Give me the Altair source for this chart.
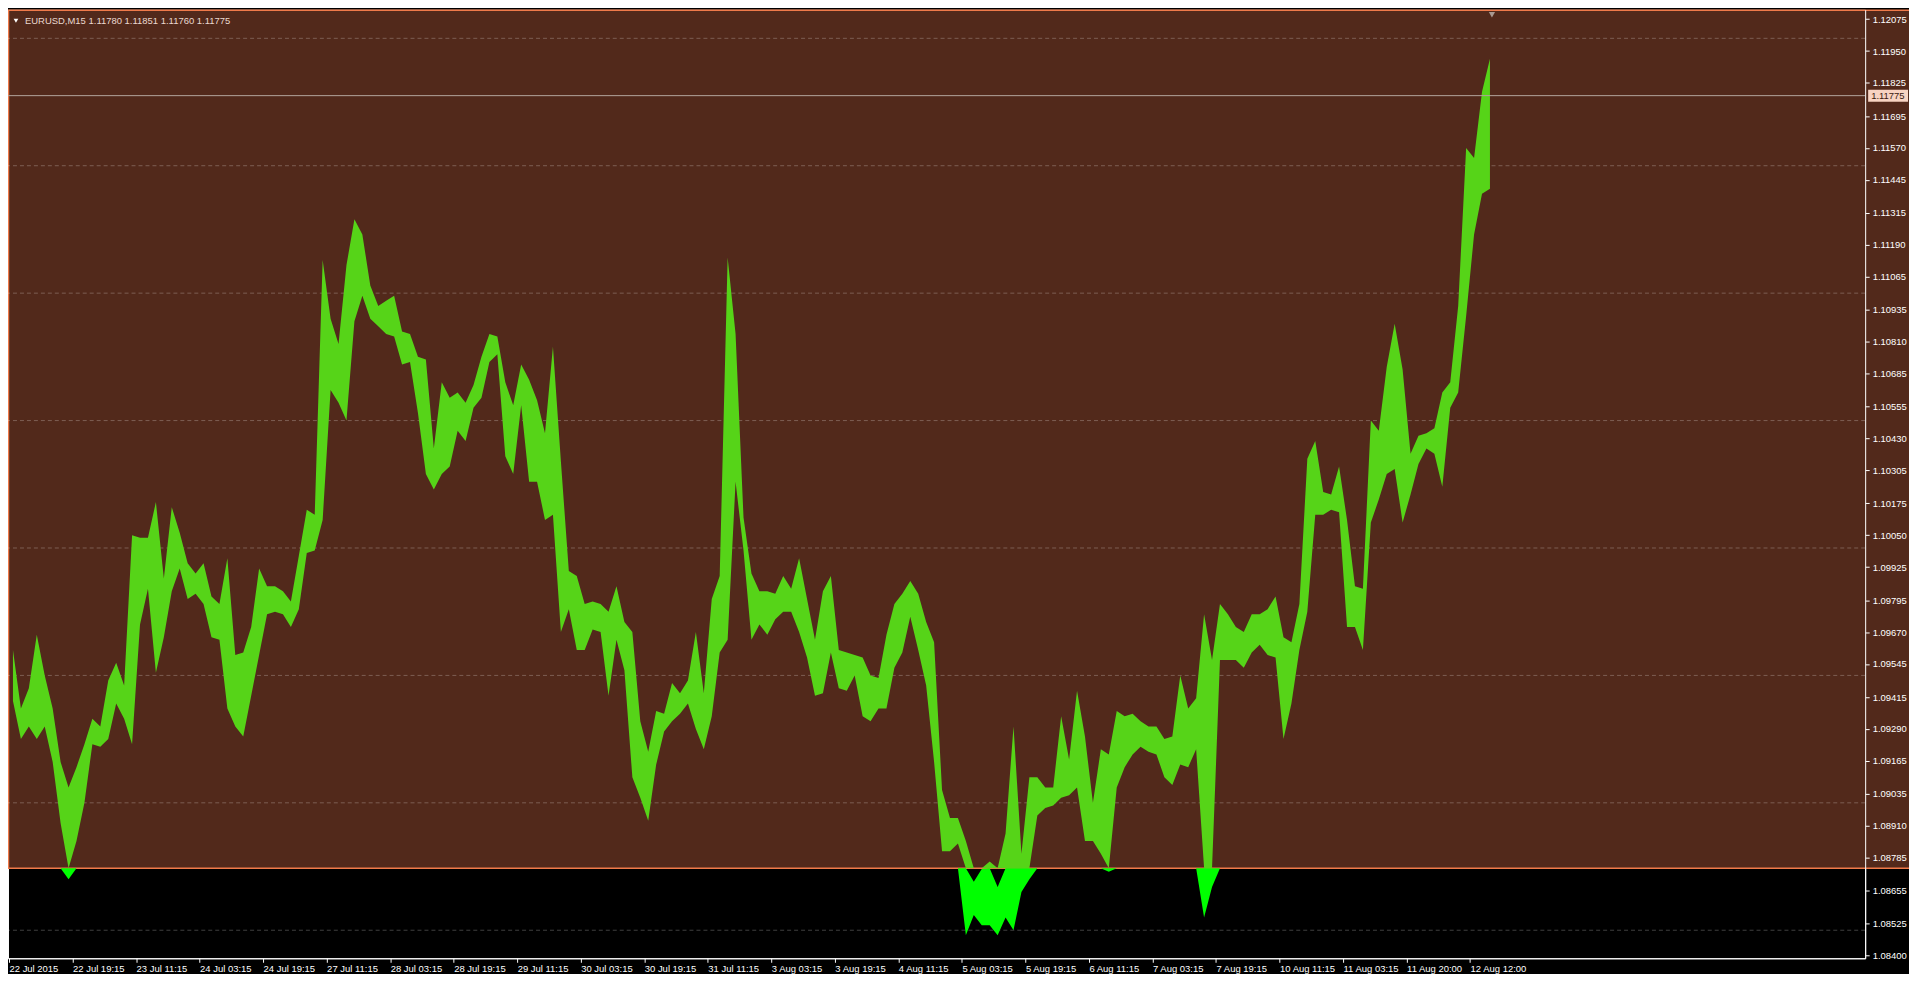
import altair as alt
import pandas as pd

# ---- data: EURUSD M15 in 2-hour bins (8 bars), high / low ----
bin_high = [
    1.0960, 1.0937, 1.0945, 1.0966, 1.0950, 1.0937, 1.0916, 1.0906, 1.0914, 1.0923,
    1.0933, 1.0930, 1.0948, 1.0955, 1.0946, 1.1005, 1.1004, 1.1004, 1.1018, 1.0988,
    1.1016, 1.1006, 1.0994, 1.0990, 1.0994, 1.0981, 1.0978, 1.0996, 1.0958, 1.0959,
    1.0969, 1.0992, 1.0985, 1.0985, 1.0983, 1.0979, 1.0997, 1.1015, 1.1013, 1.1113,
    1.1090, 1.1080, 1.1111, 1.1129, 1.1123, 1.1103, 1.1095, 1.1097, 1.1099, 1.1085,
    1.1084, 1.1075, 1.1074, 1.1039, 1.1065, 1.1059, 1.1061, 1.1057, 1.1064, 1.1075,
    1.1084, 1.1083, 1.1065, 1.1056, 1.1072, 1.1066, 1.1058, 1.1045, 1.1079, 1.1034,
    1.0991, 1.0989, 1.0978, 1.0979, 1.0978, 1.0975, 1.0985, 1.0971, 1.0967, 1.0932,
    1.0920, 1.0936, 1.0935, 1.0947, 1.0943, 1.0948, 1.0967, 1.0943, 1.0980, 1.0989,
    1.1114, 1.1084, 1.1012, 1.0990, 1.0983, 1.0983, 1.0982, 1.0989, 1.0984, 1.0996,
    1.0980, 1.0964, 1.0983, 1.0989, 1.0960, 1.0959, 1.0958, 1.0957, 1.0950, 1.0949,
    1.0966, 1.0978, 1.0982, 1.0987, 1.0982, 1.0971, 1.0963, 1.0905, 1.0894, 1.0894,
    1.0885, 1.0869, 1.0874, 1.0877, 1.0867, 1.0888, 1.0930, 1.0880, 1.0910, 1.0910,
    1.0906, 1.0906, 1.0934, 1.0917, 1.0944, 1.0926, 1.0900, 1.0921, 1.0919, 1.0936,
    1.0934, 1.0935, 1.0932, 1.0930, 1.0930, 1.0925, 1.0926, 1.0950, 1.0937, 1.0941,
    1.0974, 1.0956, 1.0978, 1.0974, 1.0969, 1.0967, 1.0974, 1.0974, 1.0976, 1.0981,
    1.0965, 1.0963, 1.0978, 1.1035, 1.1042, 1.1022, 1.1021, 1.1032, 1.1011, 1.0985,
    1.0984, 1.1050, 1.1046, 1.1071, 1.1088, 1.1070, 1.1037, 1.1044, 1.1045, 1.1047,
    1.1061, 1.1065, 1.1095, 1.1157, 1.1153, 1.1179, 1.1192,
]
bin_low = [
    1.0940, 1.0925, 1.0930, 1.0925, 1.0930, 1.0916, 1.0892, 1.0870, 1.0885, 1.0900,
    1.0923, 1.0922, 1.0925, 1.0939, 1.0933, 1.0923, 1.0970, 1.0984, 1.0951, 1.0965,
    1.0983, 1.0992, 1.0980, 1.0982, 1.0978, 1.0965, 1.0964, 1.0937, 1.0930, 1.0926,
    1.0942, 1.0958, 1.0974, 1.0975, 1.0974, 1.0969, 1.0976, 1.0998, 1.0999, 1.1011,
    1.1062, 1.1057, 1.1050, 1.1089, 1.1099, 1.1090, 1.1087, 1.1084, 1.1083, 1.1072,
    1.1073, 1.1053, 1.1029, 1.1023, 1.1029, 1.1032, 1.1046, 1.1042, 1.1055, 1.1059,
    1.1073, 1.1076, 1.1036, 1.1029, 1.1056, 1.1026, 1.1026, 1.1011, 1.1013, 1.0967,
    1.0976, 1.0960, 1.0960, 1.0968, 1.0967, 1.0942, 1.0964, 1.0952, 1.0910, 1.0902,
    1.0893, 1.0915, 1.0928, 1.0932, 1.0935, 1.0939, 1.0929, 1.0921, 1.0934, 1.0959,
    1.0964, 1.1026, 1.0999, 1.0964, 1.0970, 1.0966, 1.0972, 1.0975, 1.0975, 1.0967,
    1.0957, 1.0942, 1.0943, 1.0959, 1.0945, 1.0944, 1.0950, 1.0934, 1.0932, 1.0937,
    1.0937, 1.0953, 1.0959, 1.0973, 1.0960, 1.0946, 1.0916, 1.0881, 1.0881, 1.0884,
    1.0848, 1.0856, 1.0852, 1.0852, 1.0848, 1.0855, 1.0850, 1.0865, 1.0870, 1.0895,
    1.0898, 1.0899, 1.0902, 1.0903, 1.0906, 1.0885, 1.0885, 1.0880, 1.0873, 1.0906,
    1.0914, 1.0919, 1.0922, 1.0920, 1.0919, 1.0910, 1.0907, 1.0915, 1.0914, 1.0921,
    1.0855, 1.0867, 1.0956, 1.0956, 1.0956, 1.0953, 1.0959, 1.0962, 1.0958, 1.0957,
    1.0925, 1.0939, 1.0960, 1.0975, 1.1013, 1.1013, 1.1015, 1.1014, 1.0969, 1.0969,
    1.0960, 1.1010, 1.1019, 1.1029, 1.1031, 1.1010, 1.1021, 1.1033, 1.1039, 1.1037,
    1.1024, 1.1055, 1.1061, 1.1091, 1.1123, 1.1139, 1.1141,
]
BARS_PER_BIN = 8

tick_labels = [
    "22 Jul 2015", "22 Jul 19:15", "23 Jul 11:15", "24 Jul 03:15", "24 Jul 19:15",
    "27 Jul 11:15", "28 Jul 03:15", "28 Jul 19:15", "29 Jul 11:15", "30 Jul 03:15",
    "30 Jul 19:15", "31 Jul 11:15", "3 Aug 03:15", "3 Aug 19:15", "4 Aug 11:15",
    "5 Aug 03:15", "5 Aug 19:15", "6 Aug 11:15", "7 Aug 03:15", "7 Aug 19:15",
    "10 Aug 11:15", "11 Aug 03:15", "11 Aug 20:00", "12 Aug 12:00",
]
TICK_STEP = 64  # bars between date labels

price_labels = [
    1.12075, 1.11950, 1.11825, 1.11695, 1.11570, 1.11445, 1.11315, 1.11190, 1.11065,
    1.10935, 1.10810, 1.10685, 1.10555, 1.10430, 1.10305, 1.10175, 1.10050, 1.09925,
    1.09795, 1.09670, 1.09545, 1.09415, 1.09290, 1.09165, 1.09035, 1.08910, 1.08785,
    1.08655, 1.08525, 1.08400,
]
grid_prices = [1.120, 1.115, 1.110, 1.105, 1.100, 1.095, 1.090, 1.085]
rect_bottom = [1.08743]
last_price = [1.11775]
shift_marker_bar = [1494]
header_symbol = "EURUSD,M15"
header_ohlc = [1.11780, 1.11851, 1.11760, 1.11775]

# ---- layout / style ----
W, H = 1864, 952
X_DOMAIN = [-1, 1870]
Y_DOMAIN = [1.0839, 1.12112]
BROWN = "#52291b"
ORANGE = "#f07a4a"
GREEN_UP = "#56d418"
GREEN_DN = "#00ff00"
FONT = "Liberation Sans"
RB = rect_bottom[0]

xs = alt.Scale(domain=X_DOMAIN, nice=False, zero=False)
ys = alt.Scale(domain=Y_DOMAIN, nice=False, zero=False)

label_array = "[" + ",".join("'" + s + "'" for s in tick_labels) + "]"
x_axis = alt.Axis(
    values=[i * TICK_STEP for i in range(len(tick_labels))],
    labelExpr=label_array + "[round(datum.value / " + str(TICK_STEP) + ")]",
    title=None, grid=False, domainColor="#ffffff", tickColor="#ffffff", tickSize=4,
    labelColor="#ffffff", labelFont=FONT, labelFontSize=9.5, labelAlign="left",
    labelBaseline="top", labelPadding=1, labelFlush=False, labelOverlap=False,
)
y_axis = alt.Axis(
    orient="right", values=price_labels, format=".5f", title=None, grid=False,
    domainColor="#ffffff", tickColor="#ffffff", tickSize=4, labelColor="#ffffff",
    labelFont=FONT, labelFontSize=9.5, labelPadding=3, labelOverlap=False,
    labelFlush=False, zindex=1,
)


def X(field):
    return alt.X(field, type="quantitative", scale=xs, axis=x_axis)


def Y(field):
    return alt.Y(field, type="quantitative", scale=ys, axis=y_axis)


bars = pd.DataFrame({
    "idx": [k * BARS_PER_BIN + BARS_PER_BIN / 2 for k in range(len(bin_high))],
    "high": bin_high,
    "low": bin_low,
})

brown_rect = alt.Chart(pd.DataFrame({"p": rect_bottom})).mark_rect(
    fill=BROWN, stroke=ORANGE, strokeWidth=1.5
).encode(x=alt.value(0.5), x2=alt.value(W + 80), y=Y("p"), y2=alt.value(0.5))

grid = alt.Chart(pd.DataFrame({"p": grid_prices})).mark_rule(
    color="#ffffff", opacity=0.25, strokeDash=[4, 3], strokeWidth=1
).encode(y=Y("p"))

base = alt.Chart(bars).transform_calculate(
    up_lo=f"max(datum.low, {RB})",
    up_hi=f"max(datum.high, {RB})",
    dn_lo=f"min(datum.low, {RB})",
    dn_hi=f"min(datum.high, {RB})",
)
upper = base.mark_area(color=GREEN_UP, interpolate="linear").encode(
    x=X("idx"), y=Y("up_lo"), y2="up_hi:Q"
)
lower = base.mark_area(color=GREEN_DN, interpolate="linear").encode(
    x=X("idx"), y=Y("dn_lo"), y2="dn_hi:Q"
)

lp = pd.DataFrame({"p": last_price})
price_line = alt.Chart(lp).mark_rule(color="#b4a49c", strokeWidth=1).encode(
    y=Y("p"), x=alt.value(0), x2=alt.value(W)
)
price_box = alt.Chart(lp).mark_rect(fill="#f7d3c2", yOffset=-6, y2Offset=6).encode(
    x=alt.value(W + 3), x2=alt.value(W + 43), y=Y("p"), y2="p:Q"
)
price_text = alt.Chart(lp).mark_text(
    align="left", baseline="middle", font=FONT, fontSize=9.5, color="#3a1a10"
).encode(x=alt.value(W + 6), y=Y("p"), text=alt.Text("p:Q", format=".5f"))

header = header_symbol + "  " + " ".join(f"{v:.5f}" for v in header_ohlc)
header_text = alt.Chart(pd.DataFrame({"t": [header]})).mark_text(
    align="left", baseline="middle", font=FONT, fontSize=9.5, color="#ead8cf"
).encode(x=alt.value(17), y=alt.value(11), text="t:N")
header_tri = alt.Chart(pd.DataFrame({"t": [header]})).mark_point(
    shape="triangle-down", filled=True, size=22, color="#ffffff", opacity=1
).encode(x=alt.value(8), y=alt.value(11))

shift_marker = alt.Chart(pd.DataFrame({"idx": shift_marker_bar})).mark_point(
    shape="triangle-down", filled=True, size=40, color="#a89890", opacity=1
).encode(x=X("idx"), y=alt.value(5))

chart = alt.layer(
    brown_rect, grid, upper, lower, price_line, price_box, price_text,
    header_tri, header_text, shift_marker,
).properties(
    width=W, height=H,
    autosize=alt.AutoSizeParams(type="none"),
    padding={"left": 0, "top": 0, "right": 44, "bottom": 14},
).configure(
    background="#000000",
).configure_view(
    fill="#000000", stroke="#ffffff", strokeWidth=1,
)

chart.save("out.html", embed_options={"renderer": "svg", "actions": False})
